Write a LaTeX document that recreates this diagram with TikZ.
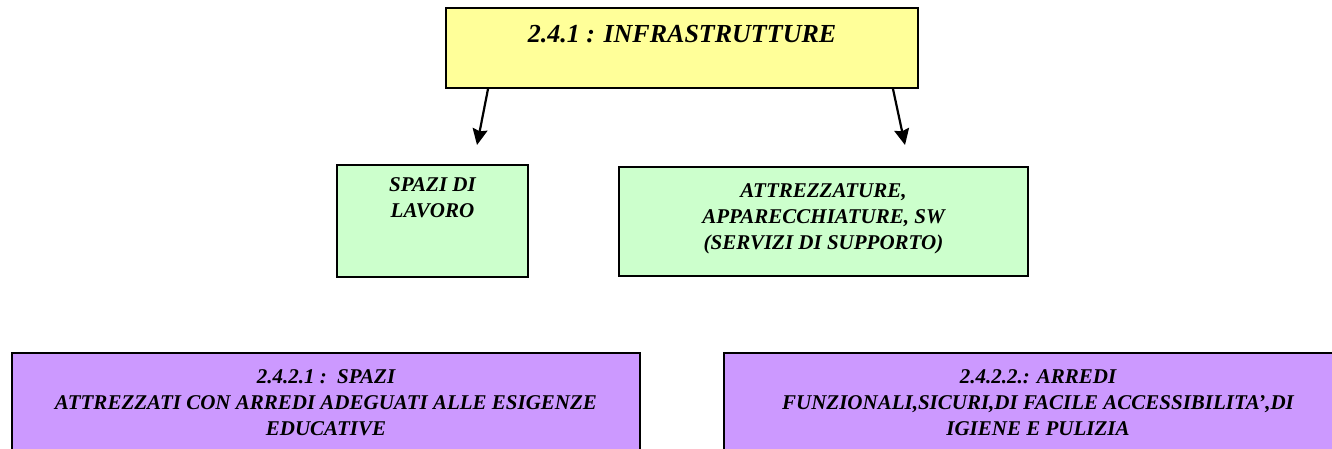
\documentclass[tikz,border=0pt]{standalone}
\usepackage{fontspec}
\setmainfont{Liberation Serif}
\usetikzlibrary{positioning}
\usetikzlibrary{arrows.meta}
\definecolor{custom-yellow}{RGB}{255, 255, 153}
\definecolor{custom-green}{RGB}{204, 255, 204}
\definecolor{custom-purple}{RGB}{204, 153, 255}

\begin{document}
\begin{tikzpicture}[x=1pt, y=-1pt,
    box/.style={draw=black, line width=2pt, inner sep=0pt},
    boxtext/.style={inner sep=0pt, align=center, font=\fontsize{21}{26}\selectfont\bfseries\itshape},
    titletext/.style={inner sep=0pt, align=center, font=\fontsize{26}{30}\selectfont\bfseries\itshape},
    arrow/.style={line width=2.2pt, -{Stealth[length=16pt, width=15pt, inset=2pt]}}]
\clip (0,0) rectangle (1332,448);
\node[box, fill=custom-yellow, minimum width=472pt, minimum height=80pt] (infra) at (682,48) {};
\node[titletext, below=18pt of infra.north] (infra-text) {2.4.1 : INFRASTRUTTURE};
\node[box, fill=custom-green, minimum width=191pt, minimum height=112pt] (spazi) at (432.5,221) {};
\node[boxtext, below=13pt of spazi.north] (spazi-text) {SPAZI DI\\LAVORO};
\node[box, fill=custom-green, minimum width=409pt, minimum height=109pt] (attrezz) at (823.5,221.5) {};
\node[boxtext, below=17pt of attrezz.north] (attrezz-text) {ATTREZZATURE,\\APPARECCHIATURE, SW\\(SERVIZI DI SUPPORTO)};
\node[box, fill=custom-purple, minimum width=628pt, minimum height=120pt] (spazi-att) at (326,413) {};
\node[boxtext, below=17pt of spazi-att.north] (spazi-att-text) {2.4.2.1 :\ \ SPAZI\\ATTREZZATI CON ARREDI ADEGUATI ALLE ESIGENZE\\EDUCATIVE};
\node[box, fill=custom-purple, minimum width=628pt, minimum height=120pt] (arredi) at (1038,413) {};
\node[boxtext, below=17pt of arredi.north] (arredi-text) {2.4.2.2.: ARREDI\\FUNZIONALI,SICURI,DI FACILE ACCESSIBILITA',DI\\IGIENE E PULIZIA};
\coordinate (tip-left) at (477,145);
\coordinate (tip-right) at (905,145);
\draw[arrow] ([xshift=43pt]infra.south west) -- (tip-left);
\draw[arrow] ([xshift=-26pt]infra.south east) -- (tip-right);
\end{tikzpicture}
\end{document}
